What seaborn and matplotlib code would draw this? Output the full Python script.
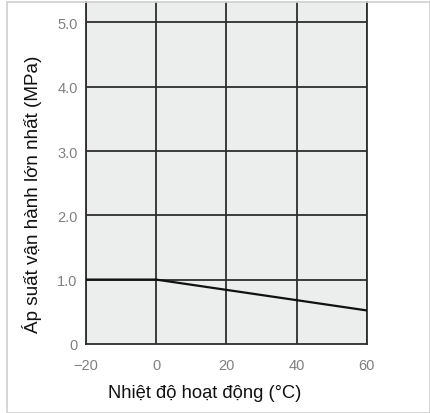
import matplotlib
matplotlib.use("Agg")
import matplotlib.pyplot as plt
import seaborn as sns
import pandas as pd
from matplotlib.patches import Rectangle

# -----------------------------
# Data
# -----------------------------
temps = [-20, 0, 20, 40, 60]
pressure = [1.0, 1.0, 0.84, 0.68, 0.52]

x_ticks = [-20, 0, 20, 40, 60]
x_tick_labels = ["−20", "0", "20", "40", "60"]
y_ticks = [0, 1, 2, 3, 4, 5]
y_tick_labels = ["0", "1.0", "2.0", "3.0", "4.0", "5.0"]

df = pd.DataFrame({"temp": temps, "pressure": pressure})

sns.set_style("white")
plt.rcParams["font.family"] = ["Liberation Sans", "DejaVu Sans"]

fig = plt.figure(figsize=(4.30, 4.14), dpi=100)
ax = fig.add_axes([0.2, 0.167, 0.653, 0.826])
ax.set_facecolor("#eceeee")

# outer frame
fig.patches.append(Rectangle((0.016, 0.0), 0.984, 0.993, transform=fig.transFigure,
                             fill=False, edgecolor="#cfcfcf", linewidth=1.2))

# grid
for xv in x_ticks:
    ax.axvline(xv, color="#2e2e2e", linewidth=1.3, zorder=1)
for yv in y_ticks[1:]:
    ax.axhline(yv, color="#2e2e2e", linewidth=1.3, zorder=1)

sns.lineplot(data=df, x="temp", y="pressure", ax=ax, color="#111111",
             linewidth=1.6, zorder=3)

ax.set_xlim(-20, 60)
ax.set_ylim(0, 5.32)
ax.set_xticks(x_ticks)
ax.set_xticklabels(x_tick_labels)
ax.set_yticks(y_ticks)
ax.set_yticklabels(y_tick_labels)
ax.tick_params(axis="x", length=0, labelsize=10.5, labelcolor="#808080", pad=10)
ax.tick_params(axis="y", length=0, labelsize=10.5, labelcolor="#808080", pad=6)

ax.spines["top"].set_visible(False)
for side in ["left", "right", "bottom"]:
    ax.spines[side].set_color("#2e2e2e")
    ax.spines[side].set_linewidth(1.3)

ax.set_xlabel("Nhiệt độ hoạt động (°C)", fontsize=13.2, color="#111111")
ax.set_ylabel("Áp suất vận hành lớn nhất (MPa)", fontsize=13.6, color="#111111")
ax.xaxis.set_label_coords(0.424, -0.118)
ax.yaxis.set_label_coords(-0.155, 0.44)

fig.savefig("out.png", dpi=100)
